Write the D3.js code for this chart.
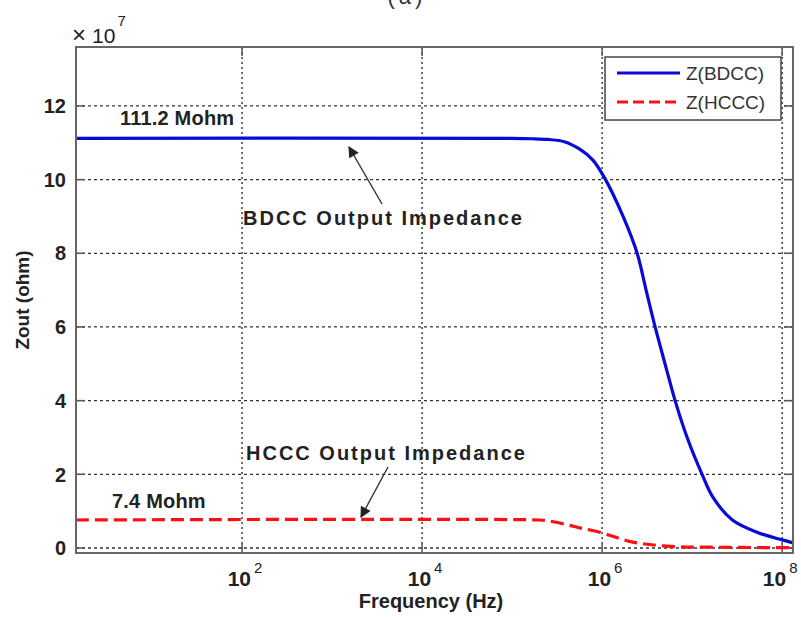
<!DOCTYPE html>
<html>
<head>
<meta charset="utf-8">
<script src="https://cdn.jsdelivr.net/npm/d3@7"></script>
<style>
  body { margin: 0; background: #fff; }
  text { font-family: "Liberation Sans", Arial, sans-serif; }
</style>
</head>
<body>
<script>
// frequency (Hz) and Zout in units of 1e7 ohm
var bdccFreq = [1.43, 1e5, 1.66e5, 2.5e5, 3.8e5, 5.7e5, 7.9e5, 1.08e6, 1.71e6, 2.45e6, 3.08e6, 3.88e6, 5.0e6, 6.47e6, 8.8e6, 1.29e7, 1.7e7, 2.8e7, 5.5e7, 1e8, 1.32e8];
var bdccZ    = [11.12, 11.12, 11.11, 11.09, 11.03, 10.82, 10.53, 10.02, 9.0, 8.0, 7.0, 6.0, 5.0, 4.0, 3.0, 2.0, 1.38, 0.76, 0.41, 0.22, 0.14];

var hcccFreq = [1.43, 2.0e5, 2.5e5, 4.1e5, 5.8e5, 1e6, 1.5e6, 2.2e6, 5.2e6, 2e7, 1.32e8];
var hcccZ    = [0.76, 0.76, 0.74, 0.63, 0.54, 0.41, 0.27, 0.16, 0.05, 0.02, 0.01];

var xTicks = [1e2, 1e4, 1e6, 1e8];
var yTicks = [0, 2, 4, 6, 8, 10, 12];
var seriesNames = ["Z(BDCC)", "Z(HCCC)"];

var W = 801, H = 617;
var margin = {top: 47, right: 8, bottom: 64, left: 76};

var svg = d3.select("body").append("svg")
    .attr("width", W)
    .attr("height", H);

var x = d3.scaleLog()
    .domain([1.43, 1.32e8])
    .range([margin.left, W - margin.right]);

var y = d3.scaleLinear()
    .domain([-0.136, 13.6])
    .range([H - margin.bottom, margin.top]);

var x0 = margin.left, x1 = W - margin.right;
var y0 = H - margin.bottom, y1 = margin.top;

// partially cut title at the very top
svg.append("text")
    .attr("x", 407).attr("y", 4)
    .attr("text-anchor", "middle")
    .attr("font-size", 22)
    .attr("letter-spacing", 4)
    .attr("fill", "#333")
    .text("(a)");

// grid
svg.append("g").selectAll("line")
    .data(yTicks)
    .enter().append("line")
    .attr("x1", x0).attr("x2", x1)
    .attr("y1", d => y(d)).attr("y2", d => y(d))
    .attr("stroke", "#333")
    .attr("stroke-width", 1.3)
    .attr("stroke-dasharray", "3,3");

svg.append("g").selectAll("line")
    .data(xTicks)
    .enter().append("line")
    .attr("x1", d => x(d)).attr("x2", d => x(d))
    .attr("y1", y1).attr("y2", y0)
    .attr("stroke", "#222")
    .attr("stroke-width", 1.3)
    .attr("stroke-dasharray", "2,3");

// inner ticks on all four sides
var tk = 9;
var ticks = svg.append("g").attr("stroke", "#555").attr("stroke-width", 1.5);
yTicks.forEach(function(d) {
    ticks.append("line").attr("x1", x0).attr("x2", x0 + tk).attr("y1", y(d)).attr("y2", y(d));
    ticks.append("line").attr("x1", x1).attr("x2", x1 - tk).attr("y1", y(d)).attr("y2", y(d));
});
xTicks.forEach(function(d) {
    ticks.append("line").attr("x1", x(d)).attr("x2", x(d)).attr("y1", y0).attr("y2", y0 - tk);
    ticks.append("line").attr("x1", x(d)).attr("x2", x(d)).attr("y1", y1).attr("y2", y1 + tk);
});

// curves
var bdcc = bdccFreq.map((f, i) => ({f: f, z: bdccZ[i]}));
var hccc = hcccFreq.map((f, i) => ({f: f, z: hcccZ[i]}));

var line = d3.line()
    .x(d => x(d.f))
    .y(d => y(d.z))
    .curve(d3.curveCatmullRom.alpha(0.5));

svg.append("path")
    .datum(hccc)
    .attr("d", line)
    .attr("fill", "none")
    .attr("stroke", "#ff1010")
    .attr("stroke-width", 3.2)
    .attr("stroke-dasharray", "13,6");

svg.append("path")
    .datum(bdcc)
    .attr("d", line)
    .attr("fill", "none")
    .attr("stroke", "#0a0ad8")
    .attr("stroke-width", 3.2);

// axes box
svg.append("rect")
    .attr("x", x0).attr("y", y1)
    .attr("width", x1 - x0).attr("height", y0 - y1)
    .attr("fill", "none")
    .attr("stroke", "#666")
    .attr("stroke-width", 2);

// y tick labels
svg.append("g").selectAll("text")
    .data(yTicks)
    .enter().append("text")
    .attr("x", x0 - 10)
    .attr("y", d => y(d))
    .attr("dy", "0.36em")
    .attr("text-anchor", "end")
    .attr("font-size", 20)
    .attr("font-weight", "bold")
    .attr("fill", "#222")
    .text(d => d);

// x tick labels 10^n
var xl = svg.append("g").selectAll("text")
    .data(xTicks)
    .enter().append("text")
    .attr("x", (d, i) => x(d) + (i === xTicks.length - 1 ? -2 : 3))
    .attr("y", 586)
    .attr("text-anchor", "middle")
    .attr("font-size", 21)
    .attr("font-weight", "bold")
    .attr("fill", "#222");
xl.append("tspan").text("10");
xl.append("tspan")
    .attr("dy", -13)
    .attr("dx", 3)
    .attr("font-size", 15)
    .attr("font-weight", "normal")
    .text(d => Math.round(Math.log10(d)));

// exponent label
var ex = svg.append("text")
    .attr("x", 72).attr("y", 43)
    .attr("fill", "#222");
ex.append("tspan").attr("font-size", 24).text("\u00d7");
ex.append("tspan").attr("dx", 6).attr("font-size", 21).text("10");
ex.append("tspan").attr("dy", -17).attr("dx", 2).attr("font-size", 15).text("7");

// axis labels
svg.append("text")
    .attr("x", 431).attr("y", 608)
    .attr("text-anchor", "middle")
    .attr("font-size", 20)
    .attr("font-weight", "bold")
    .attr("fill", "#222")
    .text("Frequency (Hz)");

svg.append("text")
    .attr("transform", "translate(29,300) rotate(-90)")
    .attr("text-anchor", "middle")
    .attr("font-size", 19)
    .attr("font-weight", "bold")
    .attr("fill", "#222")
    .text("Zout (ohm)");

// annotations
function note(tx, ty, label, sp) {
    svg.append("text")
        .attr("x", tx).attr("y", ty)
        .attr("font-size", 20)
        .attr("font-weight", "bold")
        .attr("letter-spacing", sp)
        .attr("fill", "#222")
        .text(label);
}
note(120, 125, "111.2 Mohm", 0.2);
note(243, 225, "BDCC Output Impedance", 2);
note(112, 508, "7.4 Mohm", 0.2);
note(246, 460, "HCCC Output Impedance", 2);

svg.append("defs").append("marker")
    .attr("id", "head")
    .attr("viewBox", "0 0 10 10")
    .attr("refX", 9).attr("refY", 5)
    .attr("markerWidth", 15).attr("markerHeight", 11)
    .attr("markerUnits", "userSpaceOnUse")
    .attr("orient", "auto")
    .append("path")
    .attr("d", "M0,0 L10,5 L0,10 Z")
    .attr("fill", "#222");

function arrow(ax, ay, bx, by) {
    svg.append("line")
        .attr("x1", ax).attr("y1", ay)
        .attr("x2", bx).attr("y2", by)
        .attr("stroke", "#333")
        .attr("stroke-width", 1.4)
        .attr("marker-end", "url(#head)");
}
arrow(382, 204, 349, 147);
arrow(388, 467, 361, 517);

// legend
var lg = svg.append("g");
lg.append("rect")
    .attr("x", 605).attr("y", 57)
    .attr("width", 176).attr("height", 63)
    .attr("fill", "#fff")
    .attr("stroke", "#444")
    .attr("stroke-width", 1.5);

var legendStyle = [
    {color: "#0a0ad8", dash: null},
    {color: "#ff1010", dash: "11,5"}
];
seriesNames.forEach(function(name, i) {
    var ly = 73 + i * 29;
    lg.append("line")
        .attr("x1", 617).attr("x2", 680)
        .attr("y1", ly).attr("y2", ly)
        .attr("stroke", legendStyle[i].color)
        .attr("stroke-width", 3.2)
        .attr("stroke-dasharray", legendStyle[i].dash);
    lg.append("text")
        .attr("x", 686).attr("y", ly)
        .attr("dy", "0.36em")
        .attr("font-size", 19)
        .attr("fill", "#333")
        .text(name);
});
</script>
</body>
</html>
